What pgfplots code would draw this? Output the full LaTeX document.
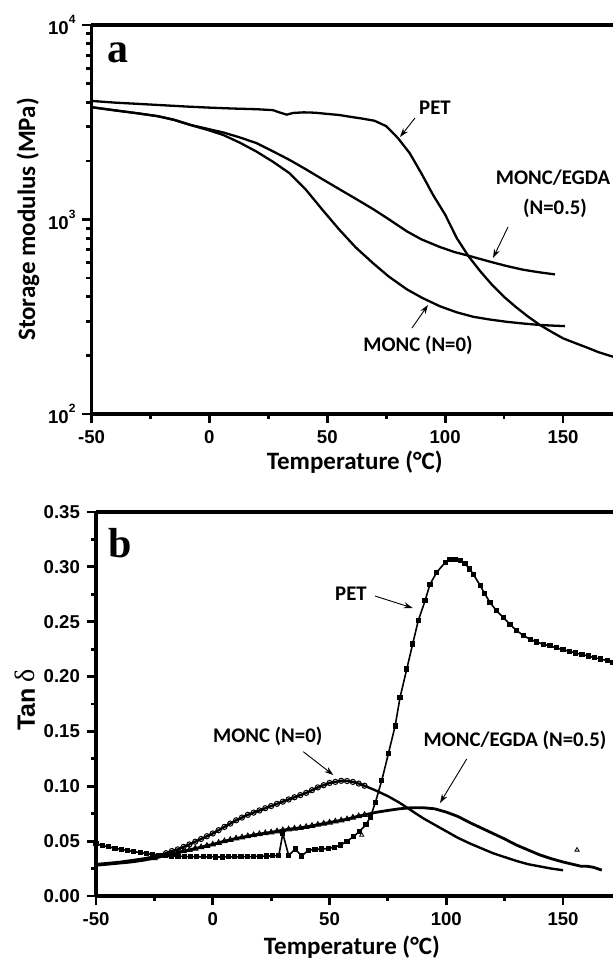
\documentclass[border=0pt]{standalone}
\usepackage{fontspec}
\setmainfont{Carlito}
\newfontfamily\arial{Liberation Sans}
\newfontfamily\tnr{Liberation Serif}
\usepackage{pgfplots}
\pgfplotsset{compat=1.18}
\usetikzlibrary{arrows.meta}

% storage modulus (MPa)
\pgfplotstableread{
T E
-50 4070
-40 3990
-30 3930
-20 3870
-10 3810
0 3760
10 3720
20 3690
27 3650
29.5 3560
32.8 3460
35.5 3530
40 3556
45 3540
50 3490
55 3447
60 3370
65 3300
70 3220
75 3020
80 2620
85 2190
90 1720
95 1330
100 1060
105 800
110 645
115 540
120 460
125 400
130 355
135 318
140 288
145 265
150 245
155 232
160 220
165 208
171.2 197
}\petE

\pgfplotstableread{
T E
-50 3780
-40 3640
-30 3510
-22 3400
-15 3260
-8 3065
0 2910
6 2800
13 2640
20 2470
27 2240
34 2025
41 1810
48 1610
55 1435
62 1280
69.5 1130
76 1005
83.7 870
90 790
97.8 722
104 680
109.2 655
119 607
126 577
133 552
140 535
146.6 522
}\egdaE

\pgfplotstableread{
T E
-50 3780
-40 3640
-30 3510
-22 3400
-15 3250
-8 3060
0 2870
6 2716
13 2480
20 2234
27 1980
34 1730
41 1420
48 1120
55 890
62 720
69.5 595
76 510
83.7 438
90 397
97.8 358
105 333
112 316
119 306
126 298
133 292
140 287
145 285
150.8 283
}\moncE

% tan delta
\pgfplotstableread{
T D
-50 0.0475
-47.3 0.046
-44.6 0.0448
-41.9 0.0435
-39.2 0.0425
-36.5 0.0416
-33.8 0.0405
-31.1 0.0396
-28.4 0.0387
-25.7 0.0378
-23.0 0.0372
-20.3 0.0367
-17.6 0.0364
-14.9 0.0362
-12.2 0.036
-9.5 0.0359
-6.8 0.0358
-4.1 0.0357
-1.4 0.0357
1.3 0.0356
4.0 0.0356
6.7 0.0357
9.4 0.0357
12.1 0.0358
14.8 0.0359
17.5 0.036
20.2 0.0362
22.9 0.0364
25.6 0.0366
28.3 0.0371
30.0 0.057
32.5 0.037
35.3 0.0428
38.1 0.0364
41.0 0.0418
43.8 0.0425
46.7 0.0428
49.4 0.0434
52.1 0.0445
54.8 0.0465
57.5 0.050
60.2 0.054
62.9 0.059
65.6 0.065
67.5 0.072
69.6 0.085
72.4 0.1055
75.2 0.1297
78.1 0.155
80.2 0.181
83.1 0.207
85.6 0.2297
88.0 0.251
90.9 0.269
93.0 0.284
95.9 0.295
99.5 0.304
101.5 0.3065
103.7 0.307
106.0 0.3055
108.0 0.303
110.0 0.298
111.6 0.2933
114.5 0.283
116.5 0.2755
118.7 0.2676
121.5 0.260
124.4 0.254
127.3 0.2475
130.2 0.2418
133.0 0.2375
135.9 0.234
138.7 0.2315
141.5 0.2295
144.4 0.228
147.2 0.2262
150.0 0.2245
152.7 0.223
155.4 0.2215
158.1 0.2201
160.8 0.2188
163.5 0.2172
166.2 0.216
168.9 0.2145
171.4 0.213
}\petD

\pgfplotstableread{
T D
-50 0.029
-45 0.030
-40 0.031
-35 0.0325
-30 0.034
-25 0.036
-20 0.039
-17.5 0.041
-15 0.0425
-12.5 0.0448
-10 0.047
-7.5 0.0495
-5 0.052
-2.5 0.0545
0 0.057
2.5 0.060
5 0.063
7.5 0.066
10 0.069
12.5 0.0715
15 0.074
17.5 0.076
20 0.078
22.5 0.080
25 0.082
27.5 0.084
30 0.086
32.5 0.088
35 0.090
37.5 0.092
40 0.094
42.5 0.0965
45 0.099
47.5 0.101
50 0.103
52.5 0.104
55 0.105
57.5 0.1048
60 0.104
62.5 0.1025
65 0.1005
70 0.096
75 0.091
80 0.085
85 0.078
90 0.071
95 0.065
100 0.059
105 0.053
110 0.048
115 0.0435
120 0.039
125 0.0355
130 0.032
135 0.029
140 0.027
145 0.025
150 0.0235
}\moncD

\pgfplotstableread{
T D
-50 0.028
-45 0.029
-40 0.030
-35 0.031
-30 0.0325
-25 0.0345
-20 0.037
-17.5 0.038
-15 0.0395
-12.5 0.041
-10 0.042
-7.5 0.0433
-5 0.0445
-2.5 0.0458
0 0.047
2.5 0.0485
5 0.050
7.5 0.0512
10 0.0525
12.5 0.0535
15 0.0545
17.5 0.0555
20 0.0565
22.5 0.0573
25 0.058
27.5 0.059
30 0.060
32.5 0.0608
35 0.0615
37.5 0.0622
40 0.063
42.5 0.064
45 0.065
47.5 0.066
50 0.067
52.5 0.068
55 0.069
57.5 0.070
60 0.0715
62.5 0.0728
65 0.074
70 0.0763
75 0.078
80 0.0795
85 0.0805
90 0.0805
95 0.0795
100 0.0765
105 0.0725
110 0.067
115 0.062
120 0.057
125 0.052
130 0.0465
135 0.042
140 0.0375
145 0.034
150 0.031
155 0.0285
157.5 0.0272
160 0.0272
163 0.0262
166.6 0.0236
}\egdaD

\pgfplotsset{
  dma/.style={
    scale only axis,
    axis x line*=box, axis y line*=left,
    axis line style={-, line width=1.8pt},
    every outer x axis line/.append style={-},
    every outer y axis line/.append style={-},
    xtick pos=bottom, ytick pos=left,
    tick align=outside,
    major tick length=4.5pt, minor tick length=2.5pt,
    every tick/.style={black, line width=1.4pt},
    tick label style={font=\arial\bfseries\fontsize{9.3}{11}\selectfont},
    xmin=-50,
    xtick={-50,0,50,100,150}, xticklabels={-50,0,50,100,150},
    minor x tick num=1,
    xlabel={Temperature (°C)},
    label style={font=\bfseries\fontsize{12.5}{14}\selectfont},
  },
}

\tikzset{lbl/.style={font=\bfseries\fontsize{10.4}{12}\selectfont, inner sep=0pt},
         arr/.style={-{Stealth[length=4.5pt,width=3pt]}, line width=0.45pt}}

\begin{document}
\begin{tikzpicture}
\useasboundingbox (0,0) rectangle (306.5pt,-479pt);

\begin{axis}[dma,
  at={(45.75pt,-207pt)}, anchor=south west,
  width=260.75pt, height=194.5pt,
  xmax=171.2,
  ymode=log, ymin=100, ymax=10000,
  ytick={100,1000,10000},
  yticklabels={10\raisebox{0.6em}{\fontsize{6}{6}\selectfont 2},
               10\raisebox{0.6em}{\fontsize{6}{6}\selectfont 3},
               10\raisebox{0.6em}{\fontsize{6}{6}\selectfont 4}},
  ylabel={Storage modulus (MPa)},
  xlabel style={at={(axis description cs:0.505,-0.123)}, anchor=center},
  ylabel style={at={(axis description cs:-0.122,0.5)}, anchor=center},
]
\addplot[black, line width=1.15pt] table[x=T,y=E] {\petE};
\addplot[black, line width=1.15pt] table[x=T,y=E] {\egdaE};
\addplot[black, line width=1.15pt] table[x=T,y=E] {\moncE};
\end{axis}

\begin{axis}[dma,
  at={(48pt,-448pt)}, anchor=south west,
  width=258.5pt, height=192pt,
  xmax=171.4,
  ymin=0, ymax=0.35,
  ytick={0,0.05,0.1,0.15,0.2,0.25,0.3,0.35},
  yticklabels={0.00,0.05,0.10,0.15,0.20,0.25,0.30,0.35},
  minor y tick num=1,
  ylabel={{\arial Tan} {\tnr\mdseries\fontsize{14}{14}\selectfont δ}},
  xlabel style={at={(axis description cs:0.495,-0.133)}, anchor=center},
  ylabel style={at={(axis description cs:-0.137,0.51)}, anchor=center},
]
\addplot[black, line width=0.8pt, mark=square*, mark size=0.9pt] table[x=T,y=D] {\petD};
\addplot[black, line width=1.4pt] table[x=T,y=D] {\egdaD};
\addplot[black, only marks, mark=triangle, mark size=1.5pt, mark options={line width=0.5pt, fill=white},
  restrict x to domain=-25:68] table[x=T,y=D] {\egdaD};
\addplot[black, line width=1.2pt] table[x=T,y=D] {\moncD};
\addplot[black, only marks, mark=o, mark size=1.3pt, mark options={line width=0.5pt, fill=white},
  restrict x to domain=-25:68] table[x=T,y=D] {\moncD};
\addplot[black, only marks, mark=triangle, mark size=1.2pt, mark options={line width=0.4pt}]
  coordinates {(156,0.042) (63.8,0.0555)};
\end{axis}

\begin{scope}[x=0.5pt, y=-0.5pt]
  \node[font=\tnr\bfseries\fontsize{21}{21}\selectfont] at (118,53) {a};
  \node[lbl] at (435,108) {PET};
  \draw[arr] (415,118) -- (400,137);
  \node[lbl] at (553,178) {MONC/EGDA};
  \node[lbl] at (555,208) {(N=0.5)};
  \draw[arr] (508,227) -- (493,258);
  \node[lbl] at (418,345) {MONC (N=0)};
  \draw[arr] (412,328) -- (428,305);

  \node[font=\tnr\bfseries\fontsize{21}{21}\selectfont] at (120,543) {b};
  \node[lbl] at (351,594) {PET};
  \draw[arr] (375,596) -- (412.7,608);
  \node[lbl] at (515,740) {MONC/EGDA (N=0.5)};
  \draw[arr] (466.7,759) -- (440,803);
  \node[lbl] at (267.7,736.7) {MONC (N=0)};
  \draw[arr] (303.3,751.7) -- (333.3,775);
\end{scope}
\end{tikzpicture}
\end{document}
